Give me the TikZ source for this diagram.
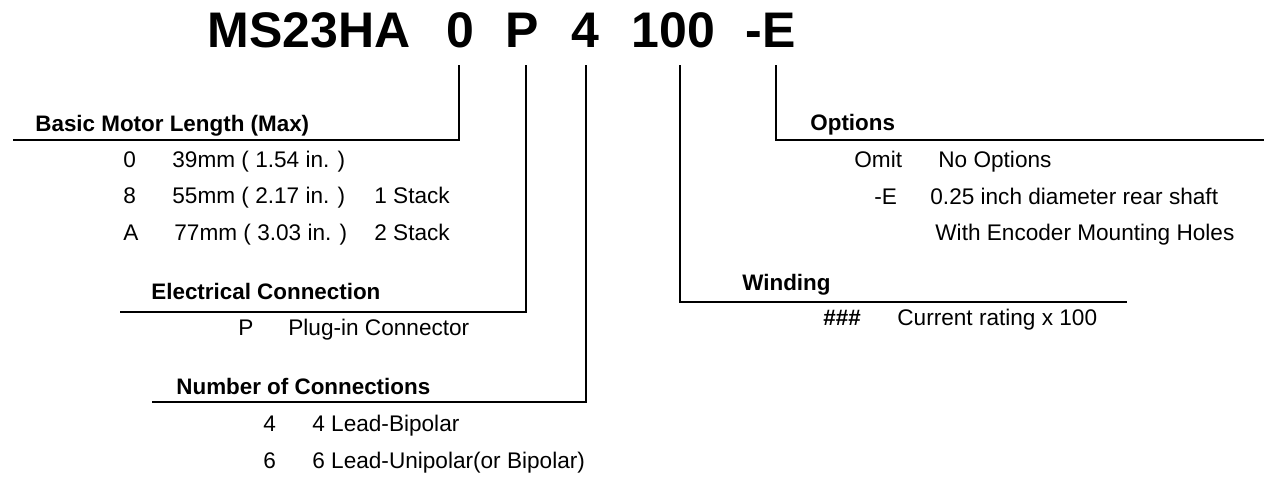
\documentclass[tikz,border=0pt]{standalone}
\usepackage{fontspec}
\setmainfont{Liberation Sans}
\tikzset{
  code/.style={font=\bfseries\fontsize{25}{28}\selectfont, anchor=base west, inner sep=0pt},
  head/.style={font=\bfseries\fontsize{11.2}{13}\selectfont, anchor=base west, inner sep=0pt},
  txt/.style={font=\fontsize{11.3}{13}\selectfont, anchor=base west, inner sep=0pt},
  lead/.style={line width=1pt}
}
\begin{document}
\begin{tikzpicture}[x=0.5pt,y=-0.5pt]
      \useasboundingbox (0,0) rectangle (1275,483);
      \draw
        (207,47) node[code] (mdl){MS23HA}
        (446,47) node[code] (len){0}
        (505,47) node[code] (conn){P}
        (571,47) node[code] (nlead){4}
        (631,47) node[code] (wind){100}
        (745,47) node[code] (opt){-E};
      \draw
        (459,65) coordinate (lentop)
        (526,65) coordinate (conntop)
        (586,65) coordinate (nleadtop)
        (680,65) coordinate (windtop)
        (776,65) coordinate (opttop)
        (13,139.5) coordinate (lenend)
        (120,311.5) coordinate (connend)
        (152,402) coordinate (nleadend)
        (1127,302) coordinate (windend)
        (1264,140) coordinate (optend);
      \begin{scope}[lead]
        \draw (lentop) |- (lenend);
        \draw (conntop) |- (connend);
        \draw (nleadtop) |- (nleadend);
        \draw (windtop) |- (windend);
        \draw (opttop) |- (optend);
      \end{scope}
      \draw
        (35,131) node[head] (lenh){Basic Motor Length (Max)}
        (123,167) node[txt] (len0){0}
        (172,167) node[txt] (len0t){39mm ( 1.54 in. )}
        (123,203) node[txt] (len8){8}
        (172,203) node[txt] (len8t){55mm ( 2.17 in. )}
        (374,203) node[txt] (len8s){1 Stack}
        (123,240) node[txt] (lenA){A}
        (174,240) node[txt] (lenAt){77mm ( 3.03 in. )}
        (374,240) node[txt] (lenAs){2 Stack}
        (151,299) node[head] (connh){Electrical Connection}
        (238,335) node[txt] (connP){P}
        (288,335) node[txt] (connPt){Plug-in Connector}
        (176,394) node[head] (nleadh){Number of Connections}
        (263,431) node[txt] (nlead4){4}
        (312,431) node[txt] (nlead4t){4 Lead-Bipolar}
        (263,468) node[txt] (nlead6){6}
        (312,468) node[txt] (nlead6t){6 Lead-Unipolar(or Bipolar)};
      \draw
        (810,130) node[head] (opth){Options}
        (854,167) node[txt] (optO){Omit}
        (938,167) node[txt] (optOt){No Options}
        (874,204) node[txt] (optE){-E}
        (930,204) node[txt] (optEt){0.25 inch diameter rear shaft}
        (935,240) node[txt] (optEu){With Encoder Mounting Holes}
        (742,290) node[head] (windh){Winding}
        (823,325) node[head] (windx){\#\#\#}
        (897,325) node[txt] (windxt){Current rating x 100};
\end{tikzpicture}
\end{document}
